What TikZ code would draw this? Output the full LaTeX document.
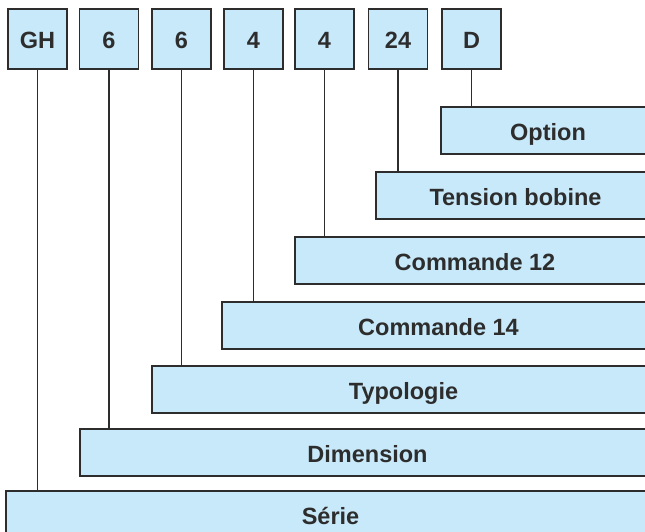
\documentclass[tikz,border=0pt]{standalone}
\usepackage{fontspec}
\setmainfont{Liberation Sans}
\definecolor{boxfill}{RGB}{200,233,249}
\definecolor{boxline}{RGB}{45,45,45}
\begin{document}
\begin{tikzpicture}[x=1pt,y=-1pt,
  every node/.style={inner sep=0pt,outer sep=0pt},
  code/.style={draw=boxline,line width=1.6pt,fill=boxfill,minimum width=59pt,minimum height=60pt,
    font=\fontsize{23.5}{27}\selectfont\bfseries,text=boxline,text height=18.8pt,text depth=0pt},
  bar/.style={draw=boxline,line width=1.6pt,fill=boxfill,minimum height=47pt,anchor=north west,
    font=\fontsize{23.5}{27}\selectfont\bfseries,text=boxline,text height=20.5pt,text depth=0pt},
  link/.style={draw=boxline,line width=1.3pt}]
\useasboundingbox (0,0) rectangle (645,531);
\begin{scope}
\clip (0,0) rectangle (645,531);
% bars
\node[bar,minimum width=214pt] (opt) at (441,107) {Option};
\node[bar,minimum width=279pt] (ten) at (376,172) {Tension bobine};
\node[bar,minimum width=360pt] (c12) at (295,237) {Commande 12};
\node[bar,minimum width=433pt] (c14) at (222,302) {Commande 14};
\node[bar,minimum width=503pt] (typ) at (152,366) {Typologie};
\node[bar,minimum width=575pt] (dim) at (80,429) {Dimension};
\node[bar,minimum width=649pt] (ser) at (6,491) {Série};
% code boxes
\node[code] (b1) at (37.5,39) {GH};
\node[code] (b2) at (109,39) {6};
\node[code] (b3) at (181.5,39) {6};
\node[code] (b4) at (253.5,39) {4};
\node[code] (b5) at (324.5,39) {4};
\node[code] (b6) at (398,39) {24};
\node[code] (b7) at (471.5,39) {D};
% connectors
\draw[link] (b1.south) -- (b1.south |- ser.north);
\draw[link] (b2.south) -- (b2.south |- dim.north);
\draw[link] (b3.south) -- (b3.south |- typ.north);
\draw[link] (b4.south) -- (b4.south |- c14.north);
\draw[link] (b5.south) -- (b5.south |- c12.north);
\draw[link] (b6.south) -- (b6.south |- ten.north);
\draw[link] (b7.south) -- (b7.south |- opt.north);
\end{scope}
\end{tikzpicture}
\end{document}
